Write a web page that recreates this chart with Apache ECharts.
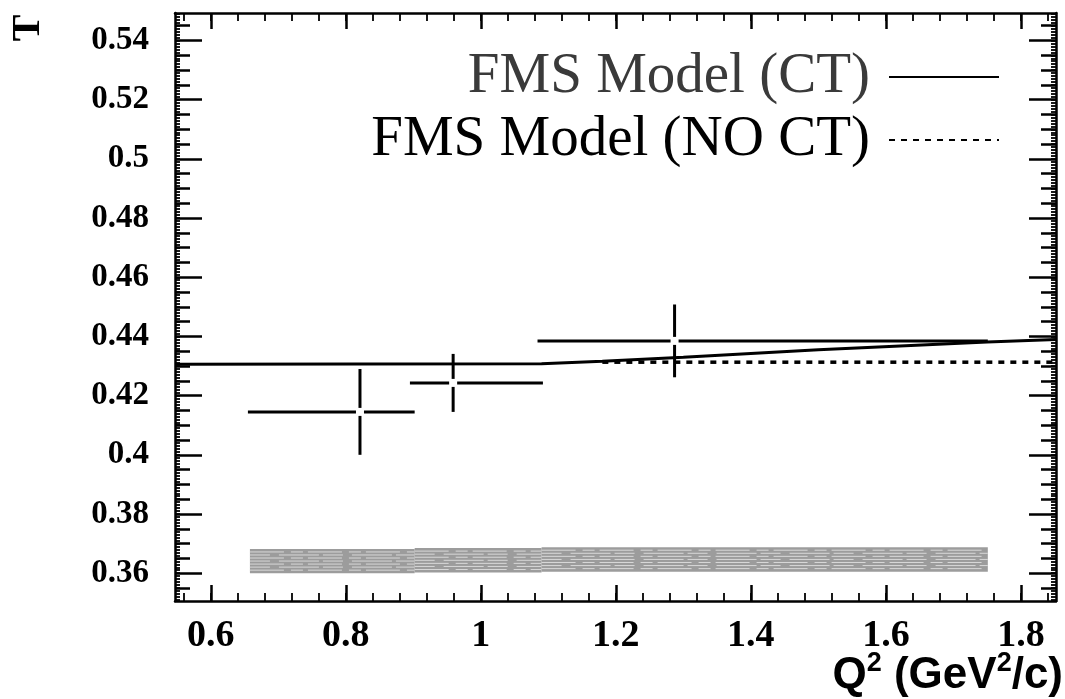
<!DOCTYPE html>
<html>
<head>
<meta charset="utf-8">
<title>FMS Model T vs Q2</title>
<script src="https://cdn.jsdelivr.net/npm/echarts@6/dist/echarts.min.js"></script>
<style>
  html, body { margin: 0; padding: 0; background: #fff; }
  #chart { width: 1065px; height: 699px; }
</style>
</head>
<body>
<div id="chart"></div>
<script>
// data points (Q2 bin centre, value, bin edges, error)
const ptQ2 = [0.821, 0.959, 1.287];
const ptT = [0.4145, 0.4243, 0.4385];
const ptQ2Lo = [0.655, 0.895, 1.084];
const ptQ2Hi = [0.902, 1.092, 1.751];
const ptErr = [0.0145, 0.0098, 0.0123];

// model curves
const ctQ2 = [0.547, 1.09, 1.18, 1.30, 1.50, 1.75, 1.852];
const ctT = [0.4306, 0.4308, 0.4316, 0.4330, 0.4355, 0.4381, 0.4390];
const noCtQ2 = [1.18, 1.852];
const noCtT = [0.4313, 0.4313];

// systematic band (grey boxes at the bottom)
const bandLo = [0.658, 0.902, 1.09];
const bandHi = [0.902, 1.09, 1.751];
const bandBottom = [0.3600, 0.3602, 0.3605];
const bandTop = [0.3682, 0.3685, 0.3688];

// axis ticks
const xTicks = [0.6, 0.8, 1, 1.2, 1.4, 1.6, 1.8];
const yTicks = [0.36, 0.38, 0.4, 0.42, 0.44, 0.46, 0.48, 0.5, 0.52, 0.54];

const X_MIN = 0.547, X_MAX = 1.852;
const Y_MIN = 0.3506, Y_MAX = 0.5493;

// tick helper: values from a to b with step
function steps(a, b, step) {
  const out = [];
  for (let v = a; v <= b + 1e-9; v += step) {
    out.push(Math.round(v * 10000) / 10000);
  }
  return out;
}
const xMinor = steps(0.56, 1.84, 0.04);
const yMinor = steps(0.355, 0.545, 0.005);
const yTiny = steps(0.351, 0.549, 0.001);

const serif = '"Liberation Serif", "DejaVu Serif", serif';

function tickAxis(pos, values, len, showLine, showLabel, labelOpt) {
  const horiz = pos === 'top' || pos === 'bottom';
  return {
    type: 'value',
    position: pos,
    min: horiz ? X_MIN : Y_MIN,
    max: horiz ? X_MAX : Y_MAX,
    axisLine: { show: showLine, lineStyle: { color: '#000', width: 2.5 } },
    axisTick: {
      show: true,
      inside: true,
      length: len,
      customValues: values,
      lineStyle: { color: '#000', width: len > 10 ? 2.5 : 1.8 }
    },
    axisLabel: Object.assign({ show: showLabel, customValues: values }, labelOpt || {}),
    splitLine: { show: false },
    minorTick: { show: false }
  };
}

const chart = echarts.init(document.getElementById('chart'));

const legendBase = {
  right: 65,
  padding: 0,
  align: 'right',
  itemWidth: 110,
  itemHeight: 14,
  itemStyle: { opacity: 0 }
};

const option = {
  animation: false,
  backgroundColor: '#fff',
  grid: { left: 175, right: 9, top: 13, bottom: 98, containLabel: false },
  title: {
    text: '{m|Q}{s|2}{m| (GeV}{s|2}{m|/c)}',
    right: 2,
    bottom: 1,
    padding: 0,
    textStyle: {
      rich: {
        m: { fontFamily: '"Liberation Sans", Arial, sans-serif', fontWeight: 'bold', fontSize: 44, lineHeight: 52, color: '#000' },
        s: { fontFamily: '"Liberation Sans", Arial, sans-serif', fontWeight: 'bold', fontSize: 27, lineHeight: 22, verticalAlign: 'top', color: '#000' }
      }
    }
  },
  graphic: [{
    // y-axis title, rotated
    type: 'text',
    x: 29,
    y: 28,
    rotation: Math.PI / 2,
    style: { text: 'T', font: 'bold 40px ' + serif, fill: '#000', align: 'center', verticalAlign: 'middle' }
  }],
  legend: [
    Object.assign({}, legendBase, {
      data: ['FMS Model (CT)'],
      top: 48,
      textStyle: { fontFamily: serif, fontSize: 57, color: '#3a3a3a', lineHeight: 58, padding: [0, 14, 0, 0] }
    }),
    Object.assign({}, legendBase, {
      data: ['FMS Model (NO CT)'],
      top: 111,
      textStyle: { fontFamily: serif, fontSize: 57, color: '#000', lineHeight: 58, padding: [0, 14, 0, 0] }
    })
  ],
  xAxis: [
    tickAxis('bottom', xTicks, 16, true, true, {
      fontFamily: serif, fontWeight: 'bold', fontSize: 38, color: '#000', margin: 16
    }),
    tickAxis('bottom', xMinor, 8, false, false),
    tickAxis('top', xTicks, 16, true, false),
    tickAxis('top', xMinor, 8, false, false)
  ],
  yAxis: [
    tickAxis('left', yTicks, 27, true, true, {
      fontFamily: serif, fontWeight: 'bold', fontSize: 33, color: '#000', margin: 26
    }),
    tickAxis('left', yMinor, 15, false, false),
    tickAxis('left', yTiny, 5, false, false),
    tickAxis('right', yTicks, 27, true, false),
    tickAxis('right', yMinor, 15, false, false),
    tickAxis('right', yTiny, 5, false, false)
  ],
  series: [
    {
      // grey systematic band
      type: 'custom',
      name: 'sys',
      xAxisIndex: 0,
      yAxisIndex: 0,
      data: bandLo.map((lo, i) => [lo, bandHi[i], bandBottom[i], bandTop[i]]),
      renderItem: function (params, api) {
        const p1 = api.coord([api.value(0), api.value(3)]);
        const p2 = api.coord([api.value(1), api.value(2)]);
        const w = p2[0] - p1[0], h = p2[1] - p1[1];
        const kids = [{
          type: 'rect',
          shape: { x: p1[0], y: p1[1], width: w, height: h },
          style: { fill: '#9c9c9c', stroke: null }
        }];
        // light streaks like the scanned hatching
        for (let k = 1; k < 8; k++) {
          kids.push({
            type: 'line',
            shape: { x1: p1[0], y1: p1[1] + h * k / 8, x2: p2[0], y2: p1[1] + h * k / 8 },
            style: { stroke: '#d8d8d8', lineWidth: 1, lineDash: k % 2 ? [34, 7, 12, 5] : [20, 9, 40, 4] }
          });
        }
        return { type: 'group', children: kids };
      }
    },
    {
      name: 'FMS Model (CT)',
      type: 'line',
      xAxisIndex: 0,
      yAxisIndex: 0,
      symbol: 'none',
      data: ctQ2.map((q, i) => [q, ctT[i]]),
      lineStyle: { color: '#000', width: 3 },
      itemStyle: { color: '#000' }
    },
    {
      name: 'FMS Model (NO CT)',
      type: 'line',
      xAxisIndex: 0,
      yAxisIndex: 0,
      symbol: 'none',
      data: noCtQ2.map((q, i) => [q, noCtT[i]]),
      lineStyle: { color: '#000', width: 3.5, type: [6, 6] },
      itemStyle: { color: '#000' }
    },
    {
      // data points with error crosses
      type: 'custom',
      name: 'data',
      xAxisIndex: 0,
      yAxisIndex: 0,
      data: ptQ2.map((q, i) => [q, ptT[i], ptQ2Lo[i], ptQ2Hi[i], ptErr[i]]),
      renderItem: function (params, api) {
        const c = api.coord([api.value(0), api.value(1)]);
        const l = api.coord([api.value(2), api.value(1)]);
        const r = api.coord([api.value(3), api.value(1)]);
        const t = api.coord([api.value(0), api.value(1) + api.value(4)]);
        const b = api.coord([api.value(0), api.value(1) - api.value(4)]);
        const g = 4; // small gap in the middle
        const st = { stroke: '#000', lineWidth: 3 };
        return {
          type: 'group',
          children: [
            { type: 'line', shape: { x1: l[0], y1: c[1], x2: c[0] - g, y2: c[1] }, style: st },
            { type: 'line', shape: { x1: c[0] + g, y1: c[1], x2: r[0], y2: c[1] }, style: st },
            { type: 'line', shape: { x1: c[0], y1: t[1], x2: c[0], y2: c[1] - g }, style: st },
            { type: 'line', shape: { x1: c[0], y1: c[1] + g, x2: c[0], y2: b[1] }, style: st }
          ]
        };
      }
    }
  ]
};

chart.setOption(option);
</script>
</body>
</html>
